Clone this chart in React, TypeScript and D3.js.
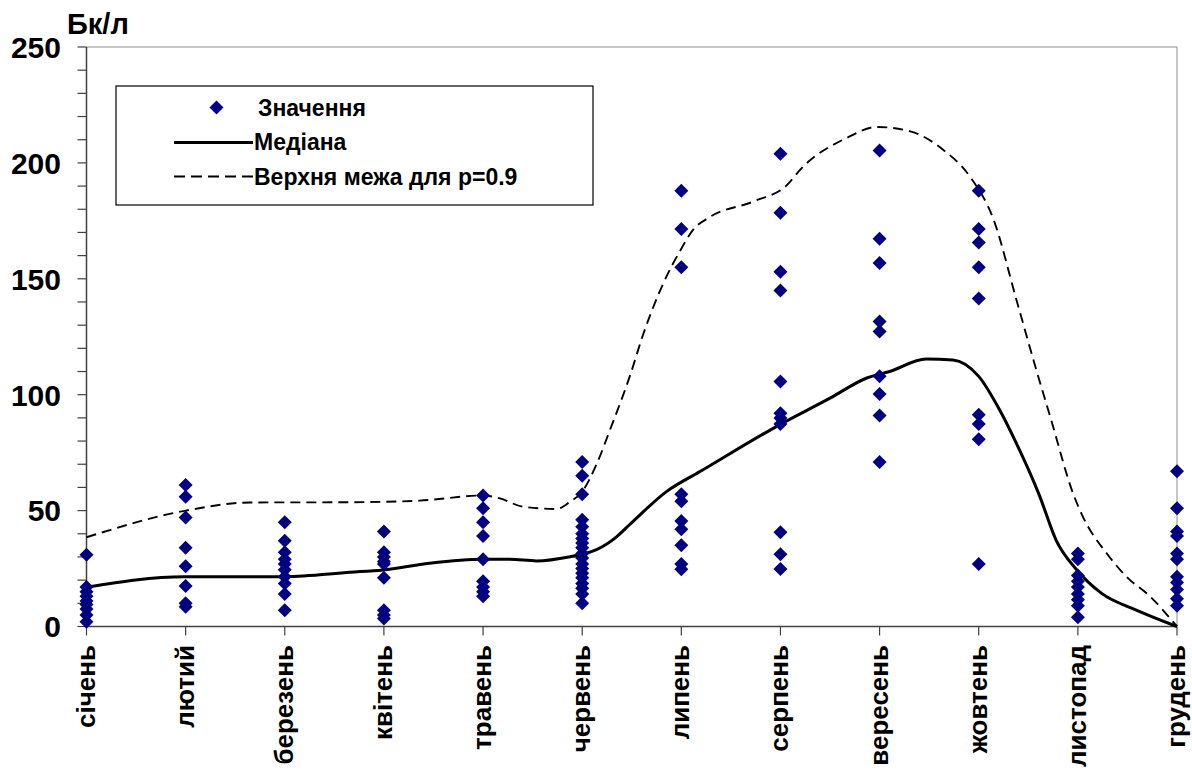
import React from "react";
import * as d3 from "d3";

const months = ["січень","лютий","березень","квітень","травень","червень","липень","серпень","вересень","жовтень","листопад","грудень"];

const valJan = [31, 17, 15, 13, 11, 9.5, 7.5, 5, 2];
const valFeb = [61, 56, 47, 34, 26, 17.5, 10, 8.5];
const valMar = [45, 37, 32, 29, 27, 24.5, 21.5, 18.5, 14, 7];
const valApr = [41, 32, 30, 28, 27, 21, 7, 5, 3.5];
const valMay = [56.5, 51, 45, 39, 29, 19.5, 17, 15, 13];
const valJun = [71, 65, 57, 46, 43, 40, 38, 36, 34, 31.5, 29.5, 27, 25, 23, 21, 18.5, 16.5, 14, 10];
const valJul = [188, 171.5, 155, 57, 54, 45.5, 42, 35, 27, 24.7];
const valAug = [204, 178.5, 153, 145, 105.7, 92, 90, 87.4, 40.7, 31.2, 24.8];
const valSep = [205.3, 167.3, 156.8, 131.6, 127.3, 108, 100.3, 91, 71];
const valOct = [188, 171.5, 165.7, 155, 141.5, 91.3, 87.4, 80.8, 27];
const valNov = [31.5, 29, 22, 19.5, 17, 14, 11.5, 9, 4];
const valDec = [67, 51, 41, 39, 31.5, 29, 21.5, 19, 16, 12, 9];
const monthValues = [valJan, valFeb, valMar, valApr, valMay, valJun, valJul, valAug, valSep, valOct, valNov, valDec];

const medianPos = [1, 1.99, 3, 3.66, 3.99, 4.46, 5, 5.27, 5.54, 5.88, 6.01, 6.15, 6.35, 6.48, 6.85, 7.22, 7.99, 8.5, 8.87, 9.1, 9.47, 9.74, 10, 10.21, 10.38, 10.61, 10.78, 10.99, 11.24, 11.59, 12];
const medianVal = [17, 21.5, 21.5, 23.4, 24.4, 27.3, 29, 29, 28.3, 30.1, 31.3, 33.3, 38.8, 44, 58.2, 67.6, 87, 98.5, 107.2, 110, 115.4, 115, 107.9, 93.5, 79, 56.8, 37.3, 24.4, 14.3, 7.1, 0];

const upperPos = [1, 1.99, 2.65, 3.66, 4.36, 5, 5.17, 5.4, 5.74, 5.88, 6, 6.15, 6.28, 6.48, 6.62, 6.82, 7, 7.12, 7.29, 7.73, 8.07, 8.2, 8.67, 8.97, 9.31, 9.64, 9.91, 10.15, 10.38, 10.58, 10.73, 10.95, 11.05, 11.29, 11.49, 11.73, 12];
const upperVal = [38.5, 49.9, 53.5, 53.6, 54.3, 56.5, 55.3, 51.7, 50.7, 53.9, 58.2, 70.5, 84.8, 107.9, 126.6, 148.2, 163, 171.2, 176.7, 183.4, 190.6, 197.1, 210.8, 215.5, 213.6, 205.7, 194.2, 175.5, 141, 110.8, 89.2, 57.6, 47.4, 31.6, 21.5, 12.9, 0];

const yMajor = [0, 50, 100, 150, 200, 250];
const yMinor = d3.range(0, 251, 10);

const legendLabels = ["Значення", "Медіана", "Верхня межа для p=0.9"];
const yUnit = "Бк/л";

const FONT = "'Liberation Sans', Arial, sans-serif";

export default function App() {
  const W = 1192, H = 771;
  const x0 = 86.5, x1 = 1177, yTop = 47, yBot = 626.5;
  const x = d3.scaleLinear().domain([1, 12]).range([x0, x1]);
  const y = d3.scaleLinear().domain([0, 250]).range([yBot, yTop]);

  const lineGen = d3.line<[number, number]>()
    .x(d => x(d[0])).y(d => y(d[1])).curve(d3.curveMonotoneX);
  const medianPath = lineGen(medianPos.map((p, i) => [p, medianVal[i]]) as [number, number][]) || "";
  const upperPath = lineGen(upperPos.map((p, i) => [p, upperVal[i]]) as [number, number][]) || "";

  const diamond = (cx: number, cy: number, r: number) =>
    `M${cx},${cy - r}L${cx + r},${cy}L${cx},${cy + r}L${cx - r},${cy}Z`;

  const points: { cx: number; cy: number }[] = [];
  monthValues.forEach((vals, i) => vals.forEach(v => points.push({ cx: x(i + 1), cy: y(v) })));

  return (
    <svg width={W} height={H} style={{ position: "absolute", left: 0, top: 0, background: "#fff" }} fontFamily={FONT}>
      <rect x={0} y={0} width={W} height={H} fill="#fff" />
      {/* plot frame */}
      <line x1={x0} x2={x1} y1={yTop} y2={yTop} stroke="#8c8c8c" strokeWidth={1} />
      <line x1={x1} x2={x1} y1={yTop} y2={yBot} stroke="#8c8c8c" strokeWidth={1} />
      {/* y axis */}
      <line x1={x0} x2={x0} y1={yTop} y2={yBot} stroke="#404040" strokeWidth={1.5} />
      {yMinor.map(v => (
        <line key={"mi" + v} x1={x0 - 9} x2={x0} y1={y(v)} y2={y(v)} stroke="#404040" strokeWidth={1.2} />
      ))}
      {yMajor.map(v => (
        <text key={"yl" + v} x={61} y={y(v)} dy="0.36em" textAnchor="end" fontSize={30} fontWeight="bold" fill="#000">{v}</text>
      ))}
      <text x={67} y={34} fontSize={29} fontWeight="bold" fill="#000">{yUnit}</text>
      {/* x axis */}
      <line x1={x0} x2={x1} y1={yBot} y2={yBot} stroke="#404040" strokeWidth={1.5} />
      {months.map((m, i) => (
        <g key={m}>
          <line x1={x(i + 1)} x2={x(i + 1)} y1={yBot} y2={yBot + 9} stroke="#404040" strokeWidth={1.2} />
          <text transform={`translate(${x(i + 1) + 8},645) rotate(-90)`} textAnchor="end" fontSize={26} fontWeight="bold" fill="#000">{m}</text>
        </g>
      ))}
      {/* lines */}
      <path d={upperPath} fill="none" stroke="#000" strokeWidth={1.9} strokeDasharray="10,6" />
      <path d={medianPath} fill="none" stroke="#000" strokeWidth={3} />
      {/* points */}
      {points.map((p, i) => (
        <path key={i} d={diamond(p.cx, p.cy, 7)} fill="#000080" />
      ))}
      {/* legend */}
      <rect x={116} y={86} width={477} height={119} fill="#fff" stroke="#000" strokeWidth={1.2} />
      <path d={diamond(216.5, 107.5, 7)} fill="#000080" />
      <line x1={174} x2={253} y1={142.5} y2={142.5} stroke="#000" strokeWidth={3} />
      <line x1={174} x2={253} y1={176.5} y2={176.5} stroke="#000" strokeWidth={1.8} strokeDasharray="11,6" />
      {legendLabels.map((t, i) => (
        <text key={t} x={i === 0 ? 258 : 254} y={107.5 + i * 34.5} dy="0.36em" fontSize={23} fontWeight="bold" fill="#000">{t}</text>
      ))}
    </svg>
  );
}
